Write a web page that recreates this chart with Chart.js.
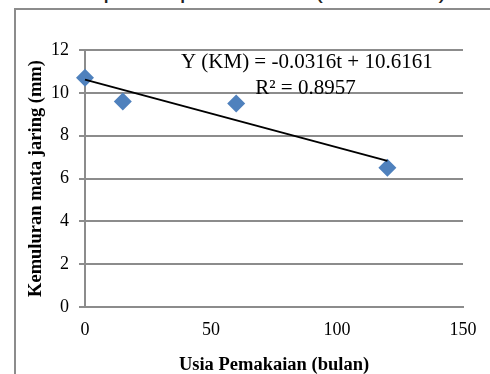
<!DOCTYPE html>
<html>
<head>
<meta charset="utf-8">
<script src="https://cdn.jsdelivr.net/npm/chart.js@4.4.0/dist/chart.umd.min.js"></script>
<style>
  html, body { margin: 0; padding: 0; background: #fff; overflow: hidden; }
  #wrap { position: relative; width: 490px; height: 374px; }
  #cut { position: absolute; left: 15px; top: -26px; font: 26px "Liberation Sans", Arial, sans-serif; color: #222; white-space: nowrap; }
  #frame { position: absolute; left: 14px; top: 8px; width: 490px; height: 400px; border: 2px solid #8c8c8c; box-sizing: border-box; }
  canvas { position: absolute; left: 0; top: 0; }
</style>
</head>
<body>
<div id="wrap">
  <div id="cut">terhadap usia pemakaian (Gambar 6).</div>
  <div id="frame"></div>
  <canvas id="chart" width="490" height="374"></canvas>
</div>
<script>
// measured points
const usia = [0, 15, 60, 120];
const kemuluran = [10.7, 9.6, 9.5, 6.5];
// linear trend from the figure
const slope = -0.0316;
const intercept = 10.6161;
const trendX = [0, 120];
const xTicks = [0, 50, 100, 150];
const yTicks = [0, 2, 4, 6, 8, 10, 12];
const eqText = 'Y (KM) = -0.0316t + 10.6161';
const r2Text = 'R\u00b2 = 0.8957';

const serif = '"Liberation Serif", "Times New Roman", serif';

const scatterData = usia.map((x, i) => ({ x: x, y: kemuluran[i] }));
const trendData = trendX.map(x => ({ x: x, y: intercept + slope * x }));

// equation label drawn at a data position
const eqLabel = {
  id: 'eqLabel',
  afterDatasetsDraw(chart) {
    const ctx = chart.ctx;
    const xs = chart.scales.x, ys = chart.scales.y;
    ctx.save();
    ctx.fillStyle = '#000';
    ctx.font = '21px ' + serif;
    ctx.textAlign = 'center';
    ctx.textBaseline = 'middle';
    ctx.fillText(eqText, xs.getPixelForValue(88), ys.getPixelForValue(11.4));
    ctx.fillText(r2Text, xs.getPixelForValue(87.5), ys.getPixelForValue(10.2));
    ctx.restore();
  }
};

new Chart(document.getElementById('chart'), {
  type: 'scatter',
  data: {
    datasets: [
      {
        label: 'Kemuluran',
        data: scatterData,
        pointStyle: 'rectRot',
        pointRadius: 9,
        pointHoverRadius: 9,
        backgroundColor: '#4f81bd',
        borderColor: '#4f81bd',
        borderWidth: 0,
        clip: false,
        order: 2
      },
      {
        label: 'Trend',
        type: 'line',
        data: trendData,
        borderColor: '#000',
        borderWidth: 2,
        pointRadius: 0,
        fill: false,
        clip: false,
        order: 1
      }
    ]
  },
  options: {
    responsive: false,
    animation: false,
    layout: { padding: { left: 0, right: 27, top: 50, bottom: 0 } },
    plugins: { legend: { display: false }, tooltip: { enabled: false } },
    scales: {
      x: {
        type: 'linear',
        min: 0, max: 150,
        afterBuildTicks: s => { s.ticks = xTicks.map(v => ({ value: v })); },
        afterFit: s => { s.height = 67; },
        grid: { display: false, drawOnChartArea: false, tickLength: 6, color: '#8c8c8c', lineWidth: 2 },
        border: { display: true, color: '#8c8c8c', width: 2 },
        ticks: { color: '#000', font: { family: serif, size: 18 }, padding: 6, maxRotation: 0 },
        title: {
          display: true,
          text: 'Usia Pemakaian (bulan)',
          color: '#000',
          font: { family: serif, size: 18.5, weight: 'bold' },
          padding: { top: 0, bottom: -2 }
        }
      },
      y: {
        min: 0, max: 12,
        afterBuildTicks: s => { s.ticks = yTicks.map(v => ({ value: v })); },
        afterFit: s => { s.width = 85; },
        grid: { color: '#8c8c8c', lineWidth: 2, tickLength: 6 },
        border: { display: true, color: '#8c8c8c', width: 2 },
        ticks: { color: '#000', font: { family: serif, size: 18 }, padding: 10 },
        title: {
          display: true,
          text: 'Kemuluran mata jaring (mm)',
          color: '#000',
          font: { family: serif, size: 18.5, weight: 'bold' },
          padding: { top: 25, bottom: 0 }
        }
      }
    }
  },
  plugins: [eqLabel]
});
</script>
</body>
</html>
